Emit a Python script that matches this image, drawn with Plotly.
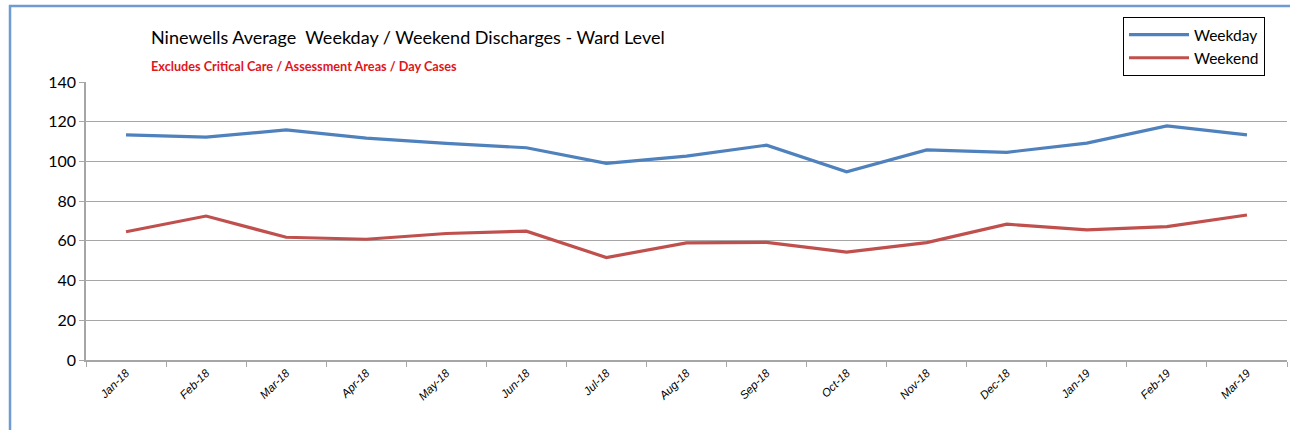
import plotly.graph_objects as go

months = ["Jan-18", "Feb-18", "Mar-18", "Apr-18", "May-18", "Jun-18", "Jul-18", "Aug-18",
          "Sep-18", "Oct-18", "Nov-18", "Dec-18", "Jan-19", "Feb-19", "Mar-19"]
weekday = [113.4, 112.2, 115.9, 111.7, 109.1, 106.9, 99.0, 102.7, 108.2, 94.8, 105.8, 104.6, 109.2, 117.9, 113.4]
weekend = [64.6, 72.5, 61.8, 60.8, 63.7, 64.9, 51.6, 59.0, 59.2, 54.3, 59.1, 68.4, 65.5, 67.2, 73.0]
y_ticks = [0, 20, 40, 60, 80, 100, 120, 140]

title_text = "Ninewells Average  Weekday / Weekend Discharges - Ward Level"
subtitle_text = "Excludes Critical Care / Assessment Areas / Day Cases"

FONT = "Lato"

fig = go.Figure()
fig.add_trace(go.Scatter(x=months, y=weekday, mode="lines", name="Weekday",
                         line=dict(color="#4F81BD", width=3.2)))
fig.add_trace(go.Scatter(x=months, y=weekend, mode="lines", name="Weekend",
                         line=dict(color="#C0504D", width=3.2)))

W, H = 1290, 430
L, R, T, B = 86, 3, 82, 70
pw = W - L - R
ph = H - T - B

def px(x):
    return (x - L) / pw

def py(y):
    return (H - B - y) / ph

fig.update_layout(
    width=W, height=H,
    margin=dict(l=L, r=R, t=T, b=B),
    paper_bgcolor="white", plot_bgcolor="white",
    font=dict(family=FONT, color="#000000"),
    showlegend=True,
    legend=dict(
        x=px(1123), xanchor="left", y=py(17), yanchor="top",
        bordercolor="#000000", borderwidth=1, bgcolor="white",
        font=dict(family=FONT, size=15.5, color="#000000"),
        itemwidth=60,
    ),
    xaxis=dict(
        type="category", range=[-0.5, len(months) - 0.5],
        showgrid=False, showline=True, linecolor="#A6A6A6", linewidth=1.5,
        ticks="outside", tickson="boundaries", ticklen=5, tickcolor="#A6A6A6",
        tickangle=-45,
        tickvals=months, ticktext=["<i>" + m + "</i>" for m in months],
        tickfont=dict(family="Liberation Sans", size=11.5, color="#000000", style="italic"),
    ),
    yaxis=dict(
        range=[0, 140], tickvals=y_ticks,
        showgrid=True, gridcolor="#A6A6A6", gridwidth=1.2,
        showline=True, linecolor="#A6A6A6", linewidth=1.5,
        ticks="outside", ticklen=5, tickcolor="#A6A6A6",
        tickfont=dict(family=FONT, size=16, color="#000000"),
        zeroline=False,
    ),
    annotations=[
        dict(text=title_text, xref="paper", yref="paper", x=px(149), y=py(24),
             xanchor="left", yanchor="top", showarrow=False,
             font=dict(family=FONT, size=18, color="#000000")),
        dict(text="<b>" + subtitle_text + "</b>", xref="paper", yref="paper", x=px(149), y=py(56),
             xanchor="left", yanchor="top", showarrow=False,
             font=dict(family=FONT, size=12.7, color="#E0161B")),
    ],
    shapes=[
        dict(type="rect", xref="paper", yref="paper",
             x0=px(10), x1=px(1300), y0=py(440), y1=py(6),
             line=dict(color="#6F9BD3", width=2.5), layer="above"),
    ],
)

fig.write_html("out.html")
